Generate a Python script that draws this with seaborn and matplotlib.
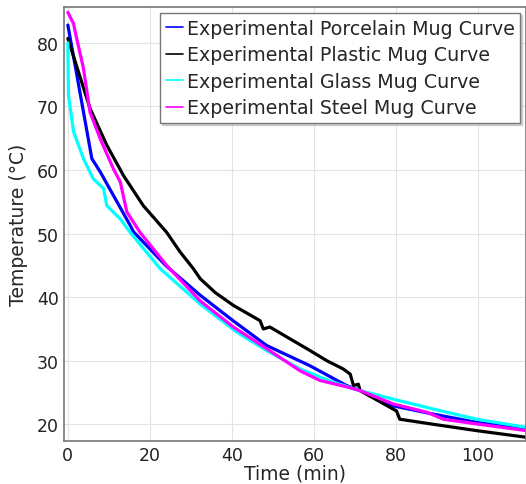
import pandas as pd
import matplotlib
matplotlib.use("Agg")
import matplotlib.pyplot as plt
import seaborn as sns

# Porcelain mug
porcelain_t = [0, 5.85, 7.9, 15.2, 16, 24, 32.3, 40.3, 48.5, 59.1, 68, 71.3, 79.4, 89.2, 99.8, 112]
porcelain_T = [82.8, 61.8, 59.7, 51.3, 50.3, 44.9, 40.3, 36.3, 32.4, 29.2, 26.1, 25.3, 22.9, 21.6, 20.3, 19.3]

# Plastic mug
plastic_t = [0, 5.4, 9.5, 13.6, 18.4, 24.1, 27.4, 30.6, 32.3, 36, 40.4, 46.9, 47.7, 49.3, 59.1, 63.2,
             67.2, 68.9, 69.7, 70.9, 71.3, 80.2, 81, 89.2, 99.8, 112]
plastic_T = [80.7, 69.7, 63.9, 59.1, 54.4, 50.2, 47.1, 44.5, 42.9, 40.7, 38.7, 36.3, 35.0, 35.3, 31.6, 30.0,
             28.7, 27.9, 26.1, 26.3, 25.3, 22.1, 20.8, 20.0, 19.0, 17.95]

# Glass mug
glass_t = [0, 0.15, 1.4, 3.8, 6.2, 8.7, 9.5, 12.8, 15.2, 22.5, 32.3, 41.2, 48.5, 56.7, 64.8,
           71.3, 81, 89.2, 99.8, 112]
glass_T = [80, 71.7, 66, 61.8, 58.6, 57.1, 54.4, 52.3, 50.2, 44.5, 38.9, 34.5, 31.6, 28.7, 26.6,
           25.3, 23.7, 22.4, 20.8, 19.5]

# Steel mug
steel_t = [0, 1.4, 1.8, 3.8, 5.4, 7.9, 11.1, 12.8, 14.4, 17.6, 24.1, 32.3, 40.4, 48.5, 56.7,
           61.5, 68, 71.3, 79.4, 87.6, 91.6, 99.8, 112]
steel_T = [84.8, 83, 81.7, 76, 69.1, 64.9, 60.2, 58.1, 53.4, 50.2, 45.0, 39.4, 35.3, 31.9, 28.4,
           26.9, 25.9, 25.3, 23.2, 21.9, 20.8, 20.05, 19.0]

series = [
    ("Experimental Porcelain Mug Curve", porcelain_t, porcelain_T, "#0000ff"),
    ("Experimental Plastic Mug Curve", plastic_t, plastic_T, "#000000"),
    ("Experimental Glass Mug Curve", glass_t, glass_T, "#00ffff"),
    ("Experimental Steel Mug Curve", steel_t, steel_T, "#ff00ff"),
]

sns.set_style("whitegrid")
plt.rcParams['font.family'] = ['DejaVu Sans']

fig = plt.figure(figsize=(5.26, 4.85), dpi=100)
ax = fig.add_axes([0.122, 0.089, 0.878, 0.894])

for name, t, T, color in series:
    df = pd.DataFrame({"t": t, "T": T})
    sns.lineplot(data=df, x="t", y="T", ax=ax, color=color, linewidth=2.3,
                 label=name, estimator=None, sort=False)

ax.set_xlim(-0.9, 111.8)
ax.set_ylim(17.4, 85.6)
ax.set_xticks([0, 20, 40, 60, 80, 100])
ax.set_yticks([20, 30, 40, 50, 60, 70, 80])
ax.tick_params(labelsize=12.5, length=0, pad=4, colors="#222222")
ax.grid(color="#e3e3e3", linewidth=0.8)
for side in ["left", "bottom", "top", "right"]:
    ax.spines[side].set_color("#777777")
    ax.spines[side].set_linewidth(1.2)

ax.set_xlabel("Time (min)", fontsize=13.5, labelpad=-1)
ax.set_ylabel("Temperature (\u00b0C)", fontsize=13.5, labelpad=6)

leg = ax.legend(loc="upper right", fontsize=13.7, handlelength=0.9, handletextpad=0.2,
                borderpad=0.3, labelspacing=0.4, fancybox=False,
                shadow={"ox": 1.5, "oy": -1.5, "color": "#aaaaaa"},
                framealpha=1, edgecolor="#777777", borderaxespad=0.3)
for line in leg.get_lines():
    line.set_linewidth(1.2)

fig.savefig("out.png", dpi=100)
